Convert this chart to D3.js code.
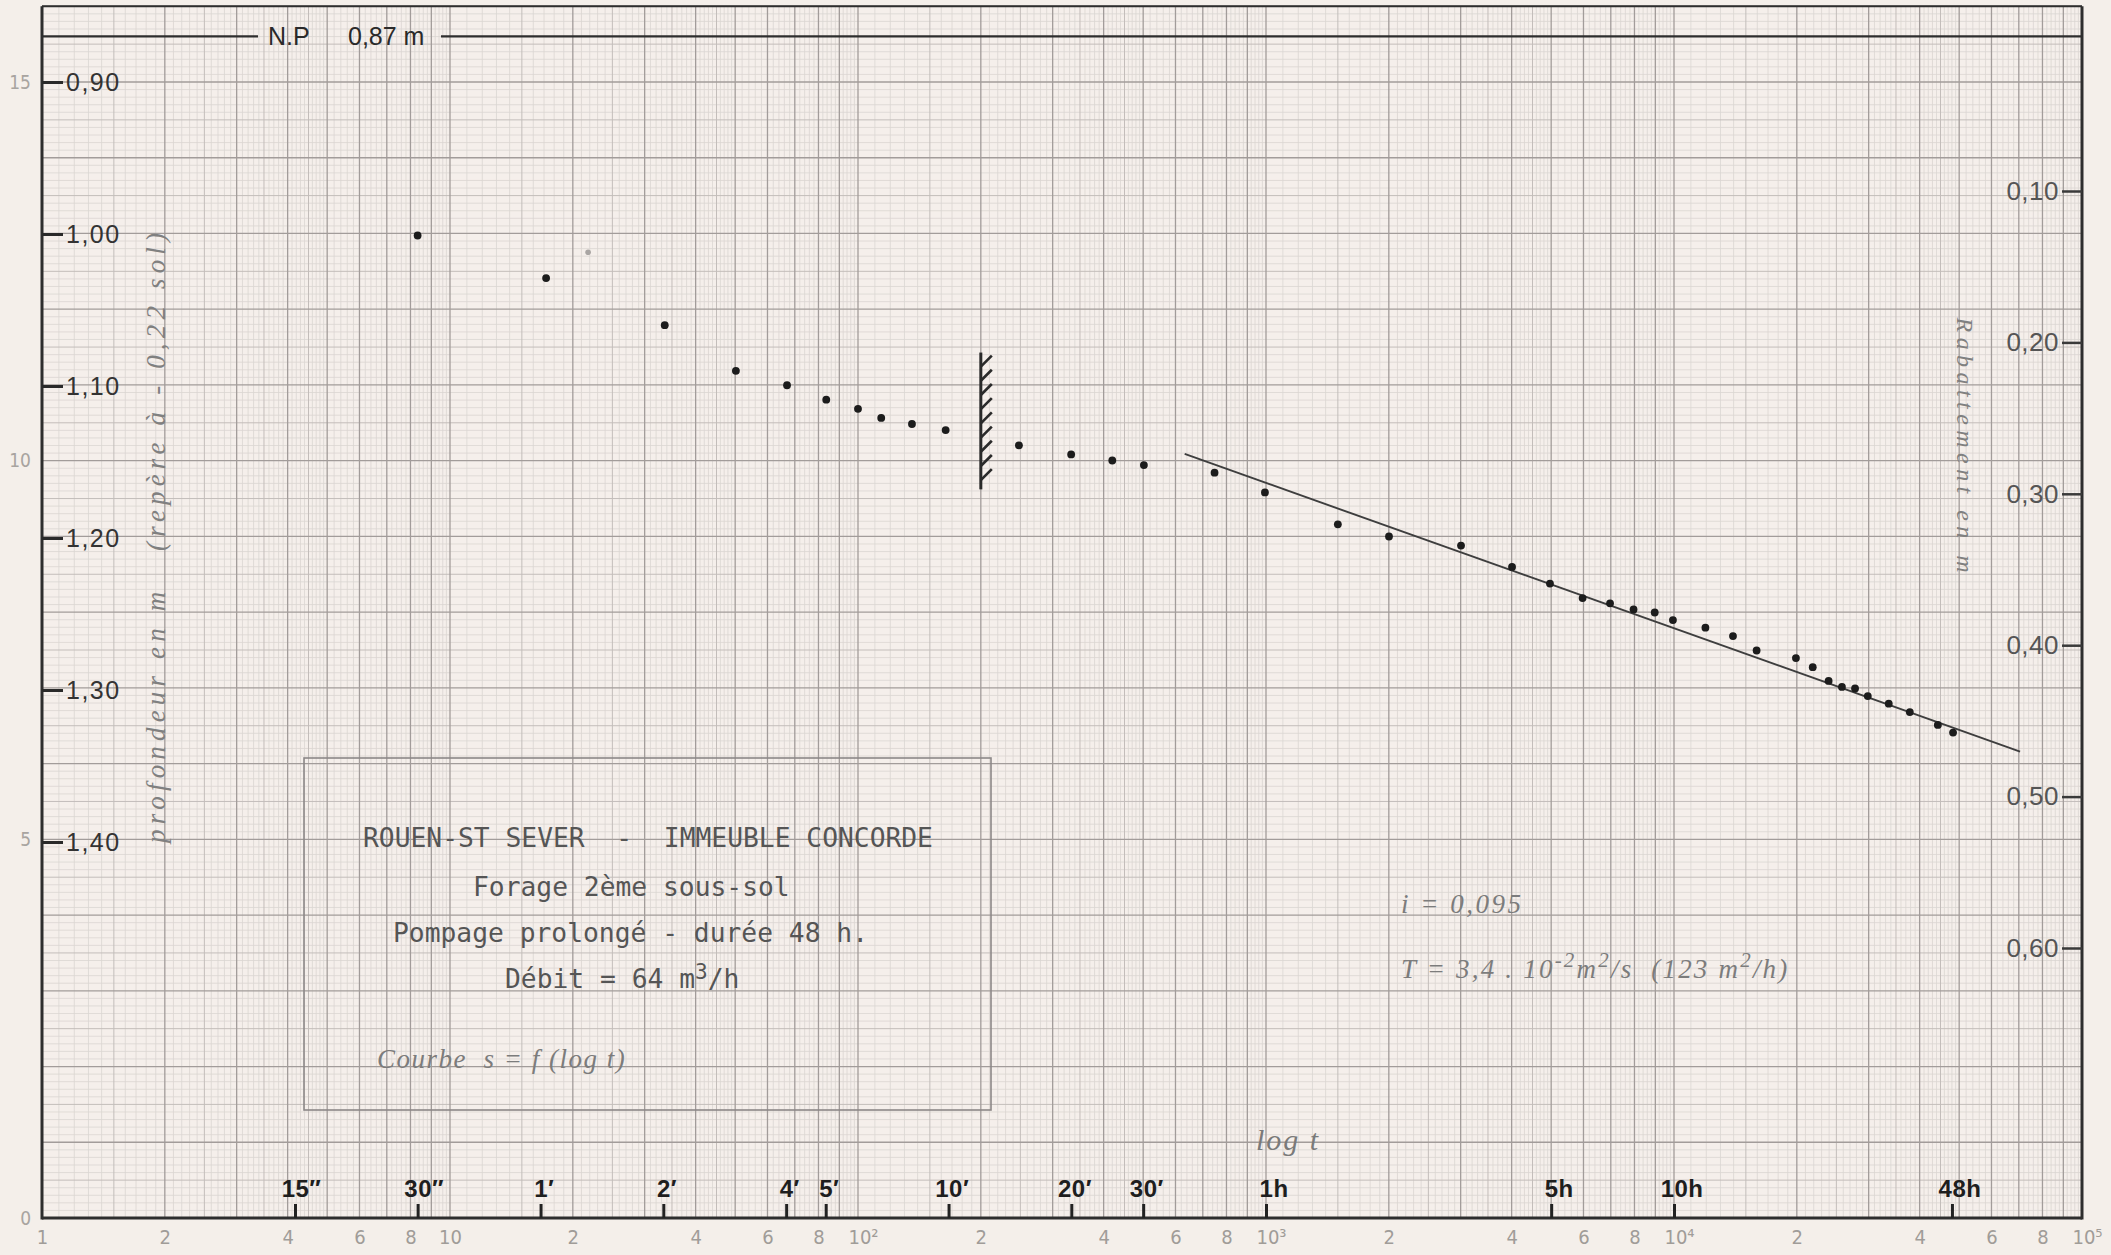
<!DOCTYPE html>
<html><head><meta charset="utf-8">
<script src="https://cdn.jsdelivr.net/npm/d3@7"></script>
<style>
html,body{margin:0;padding:0;background:#f4efea;}
svg{display:block;}
.mono{font-family:"DejaVu Sans Mono","Liberation Mono",monospace;white-space:pre;}
.hand{font-family:"Liberation Serif","DejaVu Serif",serif;font-style:italic;white-space:pre;}
.sans{font-family:"Liberation Sans",Arial,sans-serif;}
</style></head><body>
<svg id="chart" width="2111" height="1255"></svg>
<script>
// ---- data (time on log axis: 1000 units = 1 h ; depth in m) ----
const times  = [8.33, 17.2, 33.6, 50.2, 67, 83.6, 100, 114, 135.6, 164, 248, 333, 420, 502, 748,
                994, 1500, 2002, 3006, 4009, 4966, 5970, 6970, 7960, 8970, 9940, 11940, 13950, 15940,
                19900, 21880, 23930, 25800, 27780, 29850, 33600, 37840, 44330, 48300];
const depths = [1.001, 1.029, 1.060, 1.090, 1.0995, 1.109, 1.115, 1.121, 1.125, 1.129, 1.139, 1.145, 1.149, 1.152, 1.157,
                1.170, 1.191, 1.199, 1.205, 1.219, 1.230, 1.2395, 1.243, 1.247, 1.249, 1.254, 1.259, 1.2645, 1.274,
                1.279, 1.285, 1.294, 1.298, 1.299, 1.304, 1.309, 1.3145, 1.323, 1.328];
const faintTimes = [21.8];
const faintDepths = [1.012];
const fitTimes = [632, 70500];
const fitDepths = [1.1447, 1.3405];
const hatchTime = 200;
const hatchDepths = [1.078, 1.168];
const npDepth = 0.87;

const depthTicks = [0.90, 1.00, 1.10, 1.20, 1.30, 1.40];
const depthTickLabels = ["0,90", "1,00", "1,10", "1,20", "1,30", "1,40"];
const drawdownTicks = [0.10, 0.20, 0.30, 0.40, 0.50, 0.60];
const drawdownTickLabels = ["0,10", "0,20", "0,30", "0,40", "0,50", "0,60"];
const timeMarks = [4.17, 8.33, 16.67, 33.33, 66.67, 83.33, 166.7, 333.3, 500, 1000, 5000, 10000, 48000];
const timeMarkNums  = ["15", "30", "1", "2", "4", "5", "10", "20", "30", "1", "5", "10", "48"];
const timeMarkUnits = ["\u2033", "\u2033", "\u2032", "\u2032", "\u2032", "\u2032", "\u2032", "\u2032", "\u2032", "h", "h", "h", "h"];
const logLabelValues = [1, 2, 4, 6, 8, 10, 20, 40, 60, 80, 100, 200, 400, 600, 800, 1000,
                        2000, 4000, 6000, 8000, 10000, 20000, 40000, 60000, 80000, 100000];
const logLabelTexts = ["1", "2", "4", "6", "8", "10", "2", "4", "6", "8", "10\u00B2", "2", "4", "6", "8", "10\u00B3",
                       "2", "4", "6", "8", "10\u2074", "2", "4", "6", "8", "10\u2075"];
const paperTicks = [15, 10, 5, 0];
const boxLines = ["ROUEN-ST SEVER  -  IMMEUBLE CONCORDE", "Forage 2\u00E8me sous-sol",
                  "Pompage prolong\u00E9 - dur\u00E9e 48 h.", "D\u00E9bit = 64 m"];

// ---- scales ----
const svg = d3.select("#chart");
const x = d3.scaleLog().domain([1, 1e5]).range([42, 2082]);
const y = d3.scaleLinear().domain([0.90, 1.40]).range([82, 842]);
const yRight = d3.scaleLinear().domain([0.10, 0.60]).range([191, 948]);
const yPaper = d3.scaleLinear().domain([0, 15]).range([1218, 82]);
const X0 = x(1), X1 = x(1e5), YB = yPaper(0), YT = yPaper(16);

svg.append("rect").attr("width", 2111).attr("height", 1255).attr("fill", "#f4efea");
svg.append("rect").attr("x", X0).attr("y", YT).attr("width", X1 - X0).attr("height", YB - YT).attr("fill", "#f5efeb");

// ---- graph paper grid ----
const gridStyle = {thin: ["#dbd5d2", 0.8], medium: ["#c3bdba", 1.0], heavy: ["#a29c9a", 1.3]};
const vGrid = [];
for (let k = 0; k < 5; k++) {
  const b = Math.pow(10, k);
  for (let i = 10; i < 100; i++) {
    let c = null;
    if (i % 10 === 0) c = "heavy";
    else if (i < 50) c = (i % 5 === 0) ? "medium" : "thin";
    else if (i % 2 === 0) c = "thin";
    if (c) vGrid.push({v: b * i / 10, c});
  }
}
const hGrid = [];
for (let j = 0; j <= 160; j++) hGrid.push({v: j / 10, c: j % 10 === 0 ? "heavy" : (j % 5 === 0 ? "medium" : "thin")});
const gg = svg.append("g");
["thin", "medium", "heavy"].forEach(cls => {
  gg.selectAll(null).data(hGrid.filter(d => d.c === cls)).join("line")
    .attr("x1", X0).attr("x2", X1).attr("y1", d => yPaper(d.v)).attr("y2", d => yPaper(d.v))
    .attr("stroke", gridStyle[cls][0]).attr("stroke-width", gridStyle[cls][1]);
  gg.selectAll(null).data(vGrid.filter(d => d.c === cls)).join("line")
    .attr("x1", d => x(d.v)).attr("x2", d => x(d.v)).attr("y1", YT).attr("y2", YB)
    .attr("stroke", gridStyle[cls][0]).attr("stroke-width", gridStyle[cls][1]);
});

// ---- frame ----
const frame = svg.append("g").attr("stroke", "#2e2e2e").attr("fill", "none");
frame.append("line").attr("x1", X0).attr("x2", X0).attr("y1", YT).attr("y2", YB + 1.5).attr("stroke-width", 3);
frame.append("line").attr("x1", X1).attr("x2", X1).attr("y1", YT).attr("y2", YB + 1.5).attr("stroke-width", 3);
frame.append("line").attr("x1", X0).attr("x2", X1).attr("y1", YB).attr("y2", YB).attr("stroke-width", 3);
frame.append("line").attr("x1", X0).attr("x2", X1).attr("y1", YT).attr("y2", YT).attr("stroke-width", 2.2);

// N.P line
const yNP = y(npDepth);
frame.append("line").attr("x1", X0).attr("x2", 258).attr("y1", yNP).attr("y2", yNP).attr("stroke-width", 2.4);
frame.append("line").attr("x1", 441).attr("x2", X1).attr("y1", yNP).attr("y2", yNP).attr("stroke-width", 2.4);
svg.append("text").attr("class", "sans").attr("x", 268).attr("y", yNP + 9).attr("font-size", 25)
  .attr("fill", "#2a2a2a").text("N.P");
svg.append("text").attr("class", "sans").attr("x", 348).attr("y", yNP + 9).attr("font-size", 25)
  .attr("fill", "#2a2a2a").text("0,87 m");

// ---- left axis ----
const axL = svg.append("g").attr("transform", `translate(${X0},0)`)
  .call(d3.axisLeft(y).tickValues(depthTicks).tickFormat((d, i) => depthTickLabels[i]).tickSizeInner(-21).tickSizeOuter(0));
axL.select(".domain").remove();
axL.selectAll(".tick line").attr("stroke", "#2a2a2a").attr("stroke-width", 3);
axL.selectAll(".tick text").attr("x", 24).attr("text-anchor", "start").attr("fill", "#333")
  .attr("font-family", "Liberation Sans, Arial, sans-serif").attr("font-size", 25).attr("letter-spacing", 1.5);

// paper scale numbers on far left
const axP = svg.append("g").attr("transform", "translate(31,0)")
  .call(d3.axisLeft(yPaper).tickValues(paperTicks).tickFormat(d3.format("d")).tickSize(0).tickPadding(0));
axP.select(".domain").remove();
axP.selectAll(".tick text").attr("fill", "#a8a4a0").attr("font-size", 19)
  .attr("font-family", "Liberation Sans Narrow, DejaVu Sans Condensed, sans-serif");

// ---- right axis ----
const axR = svg.append("g").attr("transform", `translate(${X1},0)`)
  .call(d3.axisRight(yRight).tickValues(drawdownTicks).tickFormat((d, i) => drawdownTickLabels[i]).tickSizeInner(-20).tickSizeOuter(0));
axR.select(".domain").remove();
axR.selectAll(".tick line").attr("stroke", "#3a3a3a").attr("stroke-width", 2.5);
axR.selectAll(".tick text").attr("x", -23).attr("text-anchor", "end").attr("fill", "#555")
  .attr("font-family", "Liberation Sans, Arial, sans-serif").attr("font-size", 26).attr("letter-spacing", 0.5);

// ---- bottom time marks ----
const axT = svg.append("g").attr("transform", `translate(0,${YB})`)
  .call(d3.axisTop(x).tickValues(timeMarks).tickFormat("").tickSize(14).tickSizeOuter(0));
axT.select(".domain").remove();
axT.selectAll(".tick line").attr("stroke", "#222").attr("stroke-width", 3);
axT.selectAll(".tick").each(function (d, i) {
  const t = d3.select(this).append("text").attr("y", -21).attr("fill", "#1e1e1e")
    .attr("font-family", "Liberation Sans, Arial, sans-serif").attr("font-weight", "bold").attr("font-size", 24)
    .attr("text-anchor", "start").attr("letter-spacing", 0.5);
  const n = t.append("tspan").text(timeMarkNums[i]);
  t.append("tspan").text(timeMarkUnits[i]);
  const w = n.node().getComputedTextLength();
  t.attr("x", -w / 2);
});

// ---- bottom log labels ----
const axB = svg.append("g").attr("transform", `translate(0,${YB})`)
  .call(d3.axisBottom(x).tickValues(logLabelValues).tickFormat((d, i) => logLabelTexts[i]).tickSize(0).tickPadding(12));
axB.select(".domain").remove();
axB.selectAll(".tick text").attr("fill", "#a09c98").attr("font-size", 20)
  .attr("font-family", "Liberation Sans Narrow, DejaVu Sans Condensed, sans-serif");
axB.selectAll(".tick text").filter((d, i) => logLabelTexts[i].length > 2).attr("dx", 5);

// ---- axis titles ----
svg.append("text").attr("class", "hand").attr("transform", `translate(156,538) rotate(-90)`)
  .attr("text-anchor", "middle").attr("dominant-baseline", "central").attr("font-size", 27)
  .attr("fill", "#808080").attr("textLength", 610).attr("lengthAdjust", "spacing")
  .text("profondeur en m   (rep\u00E8re \u00E0 - 0,22 sol)");
svg.append("text").attr("class", "hand").attr("transform", `translate(1965,445) rotate(90)`)
  .attr("text-anchor", "middle").attr("dominant-baseline", "central").attr("font-size", 24)
  .attr("fill", "#808080").attr("textLength", 255).attr("lengthAdjust", "spacing")
  .text("Rabattement en m");
svg.append("text").attr("class", "hand").attr("x", 1256).attr("y", 1150).attr("font-size", 30)
  .attr("fill", "#7a7a7a").attr("letter-spacing", 2).text("log t");

// ---- info box ----
svg.append("rect").attr("x", 304).attr("y", 758).attr("width", 687).attr("height", 352)
  .attr("fill", "none").attr("stroke", "#8c8888").attr("stroke-width", 1.6);
const boxX = [363, 473, 393, 505], boxY = [847, 896, 942, 988];
boxLines.forEach((s, i) => {
  const t = svg.append("text").attr("class", "mono").attr("x", boxX[i]).attr("y", boxY[i])
    .attr("font-size", 26.3).attr("fill", "#555").text(s);
  if (i === 3) {
    t.append("tspan").attr("dy", -9).attr("font-size", 21).text("3");
    t.append("tspan").attr("dy", 9).text("/h");
  }
});
svg.append("text").attr("class", "hand").attr("x", 377).attr("y", 1068).attr("font-size", 27)
  .attr("fill", "#7c7c7c").attr("letter-spacing", 1.5).text("Courbe  s = f (log t)");

// ---- annotations ----
svg.append("text").attr("class", "hand").attr("x", 1401).attr("y", 913).attr("font-size", 27)
  .attr("fill", "#7c7c7c").attr("letter-spacing", 2.5).text("i = 0,095");
const tT = svg.append("text").attr("class", "hand").attr("x", 1401).attr("y", 978).attr("font-size", 27)
  .attr("fill", "#7c7c7c").attr("letter-spacing", 2.2);
tT.append("tspan").text("T = 3,4 . 10");
tT.append("tspan").attr("dy", -11).attr("font-size", 21).text("-2");
tT.append("tspan").attr("dy", 11).text("m");
tT.append("tspan").attr("dy", -11).attr("font-size", 21).text("2");
tT.append("tspan").attr("dy", 11).text("/s  (123 m");
tT.append("tspan").attr("dy", -11).attr("font-size", 21).text("2");
tT.append("tspan").attr("dy", 11).text("/h)");

// ---- hatched limit marker ----
const hx = x(hatchTime);
svg.append("line").attr("x1", hx).attr("x2", hx).attr("y1", y(hatchDepths[0])).attr("y2", y(hatchDepths[1]))
  .attr("stroke", "#2a2a2a").attr("stroke-width", 3);
const hatchYs = d3.range(y(hatchDepths[0]) + 14, y(hatchDepths[1]) - 6, 14.2);
svg.selectAll(null).data(hatchYs).join("line")
  .attr("x1", hx).attr("x2", hx + 11).attr("y1", d => d).attr("y2", d => d - 11)
  .attr("stroke", "#2a2a2a").attr("stroke-width", 2.6);

// ---- fitted straight line ----
svg.append("path").datum(fitTimes.map((t, i) => [t, fitDepths[i]]))
  .attr("d", d3.line().x(d => x(d[0])).y(d => y(d[1])))
  .attr("stroke", "#3e3e3e").attr("stroke-width", 1.9).attr("fill", "none");

// ---- measured points ----
svg.selectAll(null).data(times.map((t, i) => [t, depths[i]])).join("circle")
  .attr("cx", d => x(d[0])).attr("cy", d => y(d[1])).attr("r", 3.9).attr("fill", "#1c1c1c");
svg.selectAll(null).data(faintTimes.map((t, i) => [t, faintDepths[i]])).join("circle")
  .attr("cx", d => x(d[0])).attr("cy", d => y(d[1])).attr("r", 2.8).attr("fill", "#a9a5a3");
</script>
</body></html>
